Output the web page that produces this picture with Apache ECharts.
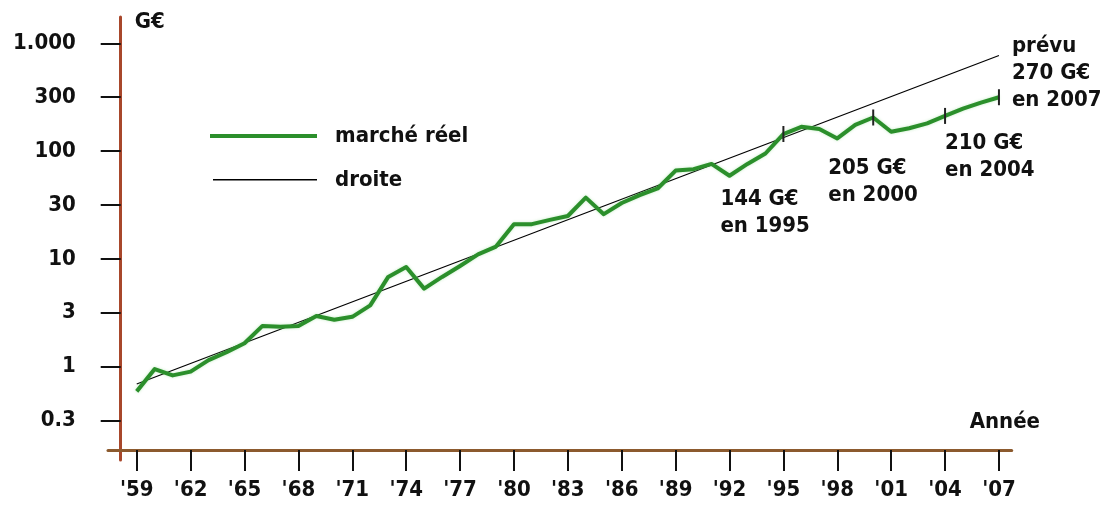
<!DOCTYPE html>
<html>
<head>
<meta charset="utf-8">
<script src="https://cdn.jsdelivr.net/npm/echarts@6/dist/echarts.min.js"></script>
<style>
html,body{margin:0;padding:0;background:#ffffff;}
#chart{width:1114px;height:506px;}
</style>
</head>
<body>
<div id="chart"></div>
<script>
// ---------- DATA ----------
const years = [1959,1960,1961,1962,1963,1964,1965,1966,1967,1968,1969,1970,1971,1972,1973,1974,1975,1976,1977,1978,1979,1980,1981,1982,1983,1984,1985,1986,1987,1988,1989,1990,1991,1992,1993,1994,1995,1996,1997,1998,1999,2000,2001,2002,2003,2004,2005,2006,2007];
const marcheReel = [0.59,0.95,0.83,0.90,1.15,1.36,1.65,2.39,2.35,2.39,2.95,2.72,2.90,3.70,6.80,8.40,5.30,6.80,8.60,11.0,13.0,21.0,21.0,23.0,25.0,37.0,26.0,33.0,39.0,45.0,66.0,68.0,76.0,59.0,76.0,95.0,144,168,160,131,175,205,151,163,181,212,248,282,316];
const droiteYears = [1959, 2007];
const droiteValues = [0.69, 770];
const xTickYears = [1959,1962,1965,1968,1971,1974,1977,1980,1983,1986,1989,1992,1995,1998,2001,2004,2007];
const xTickLabels = ["'59","'62","'65","'68","'71","'74","'77","'80","'83","'86","'89","'92","'95","'98","'01","'04","'07"];
const yTickLabels = ["0.3","1","3","10","30","100","300","1.000"];
const yTickExponents = [-0.5,0,0.5,1,1.5,2,2.5,3]; // half-decade ticks
const annotYears = [1995, 2000, 2004, 2007];
const annotTexts = ["144 G€\nen 1995", "205 G€\nen 2000", "210 G€\nen 2004", "prévu\n270 G€\nen 2007"];
const seriesNames = ["marché réel", "droite"];
const axisNames = {x: "Année", y: "G€"};

// ---------- LAYOUT / STYLE ----------
const annotOffsets = [[-63, 52], [-45, 37], [0, 14], [13, -64]];
const FONT = "'DejaVu Sans Condensed', 'DejaVu Sans', sans-serif";
const TXT = {fontFamily: FONT, fontWeight: 'bold', fontSize: 22, color: '#111'};
const GREEN = '#2b8f2b';

const yTickValues = yTickExponents.map(e => Math.pow(10, e));
const reelData = years.map((y, i) => [y, marcheReel[i]]);
const droiteData = droiteYears.map((y, i) => [y, droiteValues[i]]);
const markData = annotYears.map((y, i) => ({
  value: [y, marcheReel[years.indexOf(y)]],
  label: {offset: annotOffsets[i]}
}));

const chart = echarts.init(document.getElementById('chart'), null, {renderer: 'canvas'});
chart.setOption({
  backgroundColor: '#ffffff',
  animation: false,
  grid: {left: 108, right: 102.3, top: 17, bottom: 46, containLabel: false, outerBoundsMode: 'none'},
  legend: {
    orient: 'vertical', left: 210, top: 124, padding: 0,
    itemWidth: 107, itemHeight: 14, itemGap: 20,
    data: [
      {name: seriesNames[0], icon: 'path://M0 0M0 14M0 5H107V9H0Z'},
      {name: seriesNames[1], icon: 'path://M0 0M0 14M3 6H107V7.6H3Z'}
    ],
    textStyle: Object.assign({}, TXT, {lineHeight: 24, padding: [0, 0, 0, 13]})
  },
  xAxis: {
    type: 'value', min: 1957.4, max: 2007.71, offset: -10,
    axisLine: {show: true, onZero: false, lineStyle: {color: '#8c5a2e', width: 3}},
    axisTick: {show: true, customValues: xTickYears, length: 21, lineStyle: {color: '#111', width: 2}},
    axisLabel: Object.assign({}, TXT, {
      customValues: xTickYears, margin: 29,
      formatter: v => { const i = xTickYears.indexOf(Math.round(v)); return i >= 0 ? xTickLabels[i] : ''; }
    }),
    splitLine: {show: false},
    name: axisNames.x, nameLocation: 'end', nameGap: 28.3, nameMoveOverlap: false,
    nameTextStyle: Object.assign({}, TXT, {align: 'right', verticalAlign: 'bottom', lineHeight: 56})
  },
  yAxis: {
    type: 'log', logBase: 10, min: 0.1362, max: 1754, offset: -12.7,
    axisLine: {show: true, onZero: false, lineStyle: {color: '#a8472b', width: 3}},
    axisTick: {show: true, customValues: yTickValues, length: 20, lineStyle: {color: '#111', width: 2}},
    axisLabel: Object.assign({}, TXT, {
      customValues: yTickValues, margin: 45,
      formatter: v => {
        for (let i = 0; i < yTickValues.length; i++) {
          if (Math.abs(yTickValues[i] - v) < 1e-6 * yTickValues[i]) return yTickLabels[i];
        }
        return '';
      }
    }),
    splitLine: {show: false},
    name: axisNames.y, nameLocation: 'end', nameGap: 0, nameMoveOverlap: false,
    nameTextStyle: Object.assign({}, TXT, {align: 'left', verticalAlign: 'top', lineHeight: 10, padding: [0, 0, 0, 14]})
  },
  series: [
    {
      name: seriesNames[0], type: 'line', data: reelData, symbol: 'none',
      lineStyle: {color: GREEN, width: 4, join: 'round', shadowColor: 'rgba(120,210,120,0.45)', shadowBlur: 3},
      itemStyle: {color: GREEN}, z: 3
    },
    {
      name: seriesNames[1], type: 'line', data: droiteData, symbol: 'none',
      lineStyle: {color: '#000', width: 1.2},
      itemStyle: {color: '#000'}, z: 2
    },
    {
      name: 'repères', type: 'scatter', data: markData,
      symbol: 'rect', symbolSize: [2, 16],
      itemStyle: {color: '#222', opacity: 1}, z: 4,
      label: Object.assign({}, TXT, {
        show: true, opacity: 1, position: [1, 8], align: 'left', verticalAlign: 'top', lineHeight: 27,
        formatter: p => annotTexts[p.dataIndex]
      })
    }
  ]
});
</script>
</body>
</html>
